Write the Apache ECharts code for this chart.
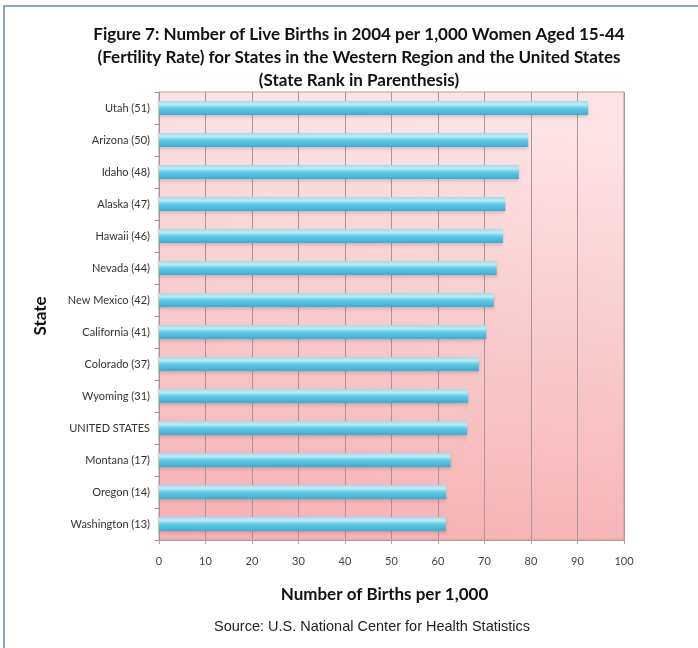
<!DOCTYPE html>
<html>
<head>
<meta charset="utf-8">
<script src="https://cdn.jsdelivr.net/npm/echarts@6/dist/echarts.min.js"></script>
<style>html,body{margin:0;padding:0;background:#fff;}#c{width:698px;height:648px;}</style>
</head>
<body>
<div id="c"></div>
<script>
const categories = ["Utah (51)","Arizona (50)","Idaho (48)","Alaska (47)","Hawaii (46)","Nevada (44)","New Mexico (42)","California (41)","Colorado (37)","Wyoming (31)","UNITED STATES","Montana (17)","Oregon (14)","Washington (13)"];
const births = [92.3,79.4,77.4,74.5,74.0,72.6,72.0,70.4,68.8,66.5,66.3,62.7,61.8,61.7];
const xTicks = [0,10,20,30,40,50,60,70,80,90,100];

const chart = echarts.init(document.getElementById('c'), null, {renderer:'canvas'});
const FONT = 'Lato';
chart.setOption({
  animation:false,
  backgroundColor:'#fff',
  title:{
    text:'Figure 7: Number of Live Births in 2004 per 1,000 Women Aged 15-44\n(Fertility Rate) for States in the Western Region and the United States\n(State Rank in Parenthesis)',
    left:354, top:18, textAlign:'center',
    textStyle:{fontFamily:FONT, fontWeight:'bold', fontSize:17, color:'#111', lineHeight:23}
  },
  graphic:[
    {type:'rect', shape:{x:4,y:6,width:710,height:670}, style:{fill:'none', stroke:'#8ea6c6', lineWidth:2}, silent:true},
    {type:'text', x:372, y:627, silent:true, style:{text:'Source: U.S. National Center for Health Statistics', font:'14.5px "Liberation Sans", Arial', fill:'#222', textAlign:'center', textVerticalAlign:'middle'}}
  ],
  grid:{left:159, right:74, top:92, bottom:108, show:true, borderColor:'#c49a9c', borderWidth:1,
    backgroundColor:new echarts.graphic.LinearGradient(0.1,0,0,1,[{offset:0,color:'#fde3e5'},{offset:1,color:'#f6afb2'}])},
  xAxis:{
    type:'value', min:0, max:100, interval:10,
    name:'Number of Births per 1,000', nameLocation:'middle', nameGap:46,
    nameTextStyle:{fontFamily:FONT, fontWeight:'bold', fontSize:17, color:'#111', padding:[0,14,0,0]},
    axisLine:{show:true, lineStyle:{color:'#b89a9c', width:1}},
    axisTick:{show:true, length:4, lineStyle:{color:'#b89a9c'}},
    axisLabel:{fontFamily:FONT, fontSize:11, color:'#444', margin:16, formatter:function(v){return xTicks.indexOf(v)>=0?String(v):'';}},
    splitLine:{show:true, lineStyle:{color:'#ad9597', width:1}}
  },
  yAxis:{
    type:'category', data:categories, inverse:true,
    name:'State', nameLocation:'middle', nameGap:110, nameRotate:90,
    nameTextStyle:{fontFamily:FONT, fontWeight:'bold', fontSize:17, color:'#111'},
    axisLine:{show:true, lineStyle:{color:'#a89294'}},
    axisTick:{show:true, length:4, alignWithLabel:false, lineStyle:{color:'#a89294'}},
    axisLabel:{fontFamily:FONT, fontSize:11, color:'#333', margin:9},
    splitLine:{show:false}
  },
  series:[{
    type:'bar', data:births, barWidth:14,
    itemStyle:{
      color:new echarts.graphic.LinearGradient(0,0,0,1,[
        {offset:0,color:'#9edcee'},{offset:0.25,color:'#bdeaf6'},{offset:0.55,color:'#5ec7e4'},{offset:1,color:'#3aaed3'}]),
      shadowColor:'rgba(120,60,60,0.25)', shadowBlur:3, shadowOffsetY:2
    }
  }]
});
</script>
</body>
</html>
